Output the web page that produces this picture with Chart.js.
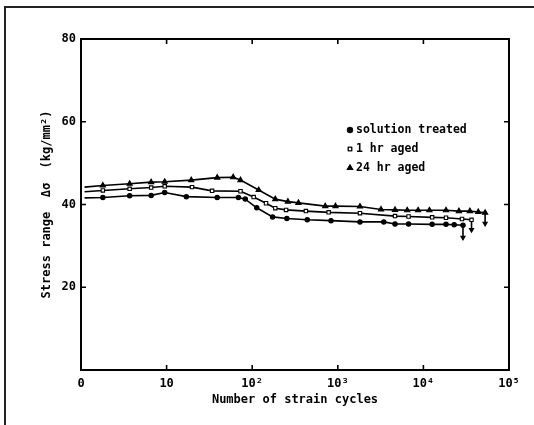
<!DOCTYPE html>
<html>
<head>
<meta charset="utf-8">
<script src="https://cdn.jsdelivr.net/npm/chart.js@4/dist/chart.umd.min.js"></script>
<style>
  html, body { margin: 0; padding: 0; background: #fff; }
  #wrap { width: 534px; height: 425px; position: relative; }
</style>
</head>
<body>
<div id="wrap"><canvas id="myChart" width="534" height="425"></canvas></div>
<script>
// axis ticks
var xTickValues = [1, 10, 100, 1000, 10000, 100000];
var xTickLabels = ['0', '10', '10²', '10³', '10⁴', '10⁵'];
var yTickValues = [20, 40, 60, 80];

var seriesNames = ['solution treated', '1 hr aged', '24 hr aged'];

// solution treated (dots). last pair = drop to failure
var solutionCycles = [1.1, 1.8, 3.7, 6.6, 9.5, 17, 39, 69, 83, 113, 173, 254, 440, 833, 1815, 3445, 4660, 6710, 12650, 18370, 22900, 29000, 29000];
var solutionStress = [41.6, 41.7, 42.1, 42.2, 42.9, 41.9, 41.7, 41.7, 41.3, 39.2, 37.0, 36.6, 36.3, 36.1, 35.8, 35.8, 35.3, 35.3, 35.2, 35.2, 35.1, 35.0, 32.0];

// 1 hr aged (open squares)
var aged1Cycles = [1.1, 1.8, 3.7, 6.6, 9.5, 19.8, 34, 73, 104, 145, 186, 249, 424, 782, 1815, 4660, 6710, 12650, 18370, 28250, 36500, 36500];
var aged1Stress = [43.1, 43.4, 43.8, 44.1, 44.4, 44.2, 43.3, 43.2, 41.8, 40.3, 39.1, 38.7, 38.4, 38.1, 37.9, 37.2, 37.1, 36.9, 36.8, 36.5, 36.3, 33.9];

// 24 hr aged (triangles)
var aged24Cycles = [1.1, 1.8, 3.7, 6.6, 9.5, 19.4, 39, 60, 73, 119, 186, 261, 347, 714, 940, 1815, 3200, 4660, 6470, 8670, 11750, 18370, 26000, 34900, 43800, 52600, 52600];
var aged24Stress = [44.2, 44.6, 45.0, 45.4, 45.5, 45.9, 46.5, 46.6, 45.9, 43.5, 41.3, 40.7, 40.4, 39.6, 39.6, 39.5, 38.8, 38.7, 38.6, 38.6, 38.6, 38.6, 38.4, 38.4, 38.2, 38.0, 35.4];

var FONT = '"DejaVu Sans Mono", monospace';

function toPoints(xs, ys) {
  return xs.map(function (x, i) { return { x: x, y: ys[i] }; });
}

function makeSet(label, xs, ys, style, fill, radius) {
  var last = xs.length - 1;
  return {
    label: label,
    data: toPoints(xs, ys),
    borderColor: '#000',
    borderWidth: 1.6,
    tension: 0,
    pointStyle: function (c) { return c.dataIndex === last ? 'triangle' : style; },
    pointRotation: function (c) { return c.dataIndex === last ? 180 : 0; },
    pointRadius: function (c) { return c.dataIndex === 0 ? 0 : (c.dataIndex === last ? 2.4 : radius); },
    pointBackgroundColor: function (c) { return c.dataIndex === last ? '#000' : fill; },
    pointBorderColor: '#000',
    pointBorderWidth: 1.1,
    legendStyle: style,
    legendFill: fill,
    legendRadius: radius
  };
}

var frame = {
  id: 'frame',
  afterDraw: function (chart) {
    var ctx = chart.ctx, a = chart.chartArea;
    var xs = chart.scales.x, ys = chart.scales.y;
    ctx.save();
    ctx.strokeStyle = '#000';
    ctx.lineWidth = 2;
    ctx.strokeRect(a.left, a.top, a.right - a.left, a.bottom - a.top);
    // inward tick marks
    ctx.lineWidth = 1.6;
    ctx.beginPath();
    xTickValues.slice(1, -1).forEach(function (v) {
      var px = xs.getPixelForValue(v);
      ctx.moveTo(px, a.bottom); ctx.lineTo(px, a.bottom - 5);
      ctx.moveTo(px, a.top); ctx.lineTo(px, a.top + 5);
    });
    yTickValues.slice(0, -1).forEach(function (v) {
      var py = ys.getPixelForValue(v);
      ctx.moveTo(a.left, py); ctx.lineTo(a.left + 5, py);
      ctx.moveTo(a.right, py); ctx.lineTo(a.right - 5, py);
    });
    ctx.stroke();
    // outer page frame
    ctx.strokeStyle = '#222';
    ctx.lineWidth = 2;
    ctx.beginPath();
    ctx.moveTo(5, 425); ctx.lineTo(5, 7); ctx.lineTo(534, 7);
    ctx.stroke();
    // legend inside the plot
    ctx.font = 'bold 11.5px ' + FONT;
    ctx.textBaseline = 'middle';
    chart.data.datasets.forEach(function (ds, i) {
      var y = 130 + i * 19;
      Chart.helpers.drawPoint(ctx, {
        pointStyle: ds.legendStyle, radius: ds.legendRadius, rotation: 0, borderWidth: 1.1
      }, 350, y);
      ctx.fillStyle = ds.legendFill;
      ctx.strokeStyle = '#000';
      ctx.lineWidth = 1.1;
      ctx.fill();
      ctx.stroke();
      ctx.fillStyle = '#000';
      ctx.fillText(ds.label, 356, y);
    });
    ctx.restore();
  }
};

var ctx = document.getElementById('myChart').getContext('2d');
var chart = new Chart(ctx, {
  type: 'line',
  data: {
    datasets: [
      makeSet(seriesNames[0], solutionCycles, solutionStress, 'circle', '#000', 2.2),
      makeSet(seriesNames[1], aged1Cycles, aged1Stress, 'rect', '#fff', 2.4),
      makeSet(seriesNames[2], aged24Cycles, aged24Stress, 'triangle', '#000', 3)
    ]
  },
  options: {
    responsive: false,
    animation: false,
    layout: { padding: { top: 39, right: 25, left: 0, bottom: 0 } },
    plugins: {
      legend: { display: false },
      tooltip: { enabled: false }
    },
    scales: {
      x: {
        type: 'logarithmic',
        min: 1,
        max: 100000,
        grid: { display: false, drawTicks: false },
        border: { display: true, color: '#000', width: 2 },
        afterBuildTicks: function (s) { s.ticks = xTickValues.map(function (v) { return { value: v }; }); },
        afterFit: function (s) { s.height = 55; },
        ticks: {
          color: '#000',
          padding: 7,
          autoSkip: false,
          maxRotation: 0,
          font: { family: FONT, size: 12, weight: 'bold' },
          callback: function (v) {
            var i = xTickValues.indexOf(v);
            return i >= 0 ? xTickLabels[i] : '';
          }
        },
        title: {
          display: true,
          text: 'Number of strain cycles',
          color: '#000',
          font: { family: FONT, size: 12, weight: 'bold' },
          padding: { top: 0, bottom: 18 }
        }
      },
      y: {
        min: 0,
        max: 80,
        grid: { display: false, drawTicks: false },
        border: { display: true, color: '#000', width: 2 },
        afterBuildTicks: function (s) { s.ticks = yTickValues.map(function (v) { return { value: v }; }); },
        afterFit: function (s) { s.width = 81; },
        ticks: {
          color: '#000',
          padding: 5,
          font: { family: FONT, size: 12, weight: 'bold' }
        },
        title: {
          display: true,
          text: 'Stress range  Δσ  (kg/mm²)',
          color: '#000',
          font: { family: FONT, size: 12, weight: 'bold' },
          padding: { top: 40, bottom: 0 }
        }
      }
    }
  },
  plugins: [frame]
});
</script>
</body>
</html>
